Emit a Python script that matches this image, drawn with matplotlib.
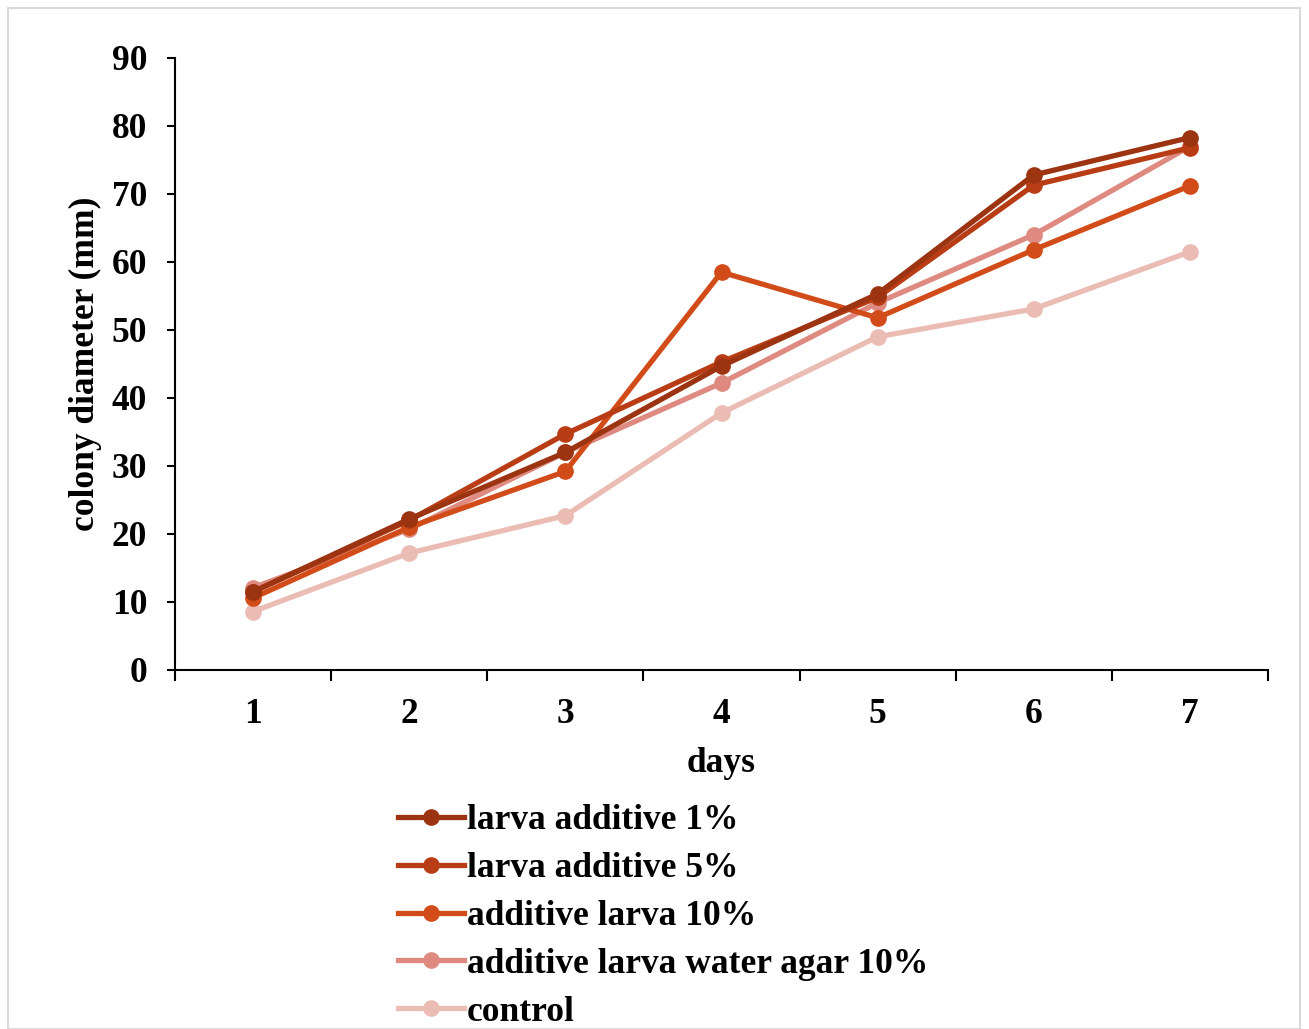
import matplotlib.pyplot as plt
from matplotlib.patches import Rectangle

days = [1, 2, 3, 4, 5, 6, 7]
labels = ["larva additive 1%", "larva additive 5%", "additive larva 10%",
          "additive larva water agar 10%", "control"]
larva_1 = [11.5, 22.2, 32.0, 44.7, 55.3, 72.8, 78.3]
larva_5 = [11.5, 22.0, 34.7, 45.3, 54.8, 71.3, 76.8]
larva_10 = [10.6, 21.0, 29.2, 58.5, 51.8, 61.8, 71.2]
water_agar_10 = [12.1, 20.7, 32.0, 42.2, 54.0, 64.0, 77.0]
control = [8.6, 17.2, 22.7, 37.8, 49.0, 53.1, 61.5]
series = [larva_1, larva_5, larva_10, water_agar_10, control]
colors = ["#9c3311", "#b83d14", "#d24c1a", "#de8a80", "#ebbcb4"]

plt.rcParams['font.family'] = ['Liberation Serif', 'DejaVu Serif']
plt.rcParams['font.weight'] = 'bold'

fig = plt.figure(figsize=(13.09, 10.29), dpi=100)
ax = fig.add_axes([175 / 1309, 1 - 670 / 1029, 1093 / 1309, 612 / 1029])

# drawn back to front so the darker lines sit on top
for vals, lab, col in reversed(list(zip(series, labels, colors))):
    ax.plot(days, vals, color=col, lw=3.8, marker='o', ms=11, label=lab)

ax.set_xlim(0.5, 7.5)
ax.set_ylim(0, 90)
ax.set_yticks(range(0, 91, 10))
ax.set_xticks(days)
ax.set_xticks([d - 0.5 for d in days] + [7.5], minor=True)
ax.tick_params(axis='x', which='major', length=0, pad=20, labelsize=25.5)
ax.tick_params(axis='x', which='minor', length=8, width=1.5, direction='out')
ax.tick_params(axis='y', which='major', length=6, width=1.5, labelsize=25.5, pad=14)
for s in ['top', 'right']:
    ax.spines[s].set_visible(False)
for s in ['left', 'bottom']:
    ax.spines[s].set_linewidth(1.5)

ax.set_xlabel("days", fontsize=25.5, fontweight='bold', labelpad=12)
ax.set_ylabel("colony diameter (mm)", fontsize=25.5, fontweight='bold', labelpad=7)

handles, labs = ax.get_legend_handles_labels()
fig.legend(handles[::-1], labs[::-1], loc='upper left',
           bbox_to_anchor=(384 / 1309, 1 - 790 / 1029), frameon=False,
           fontsize=25.5, handlelength=1.85, handletextpad=0.08, labelspacing=0.42,
           borderaxespad=0)

fig.patches.append(Rectangle((8 / 1309, 0), 1292 / 1309, 1 - 8 / 1029,
                             transform=fig.transFigure, fill=False,
                             edgecolor='#d9d9d9', lw=1.5))

fig.savefig("out.png", dpi=100)
